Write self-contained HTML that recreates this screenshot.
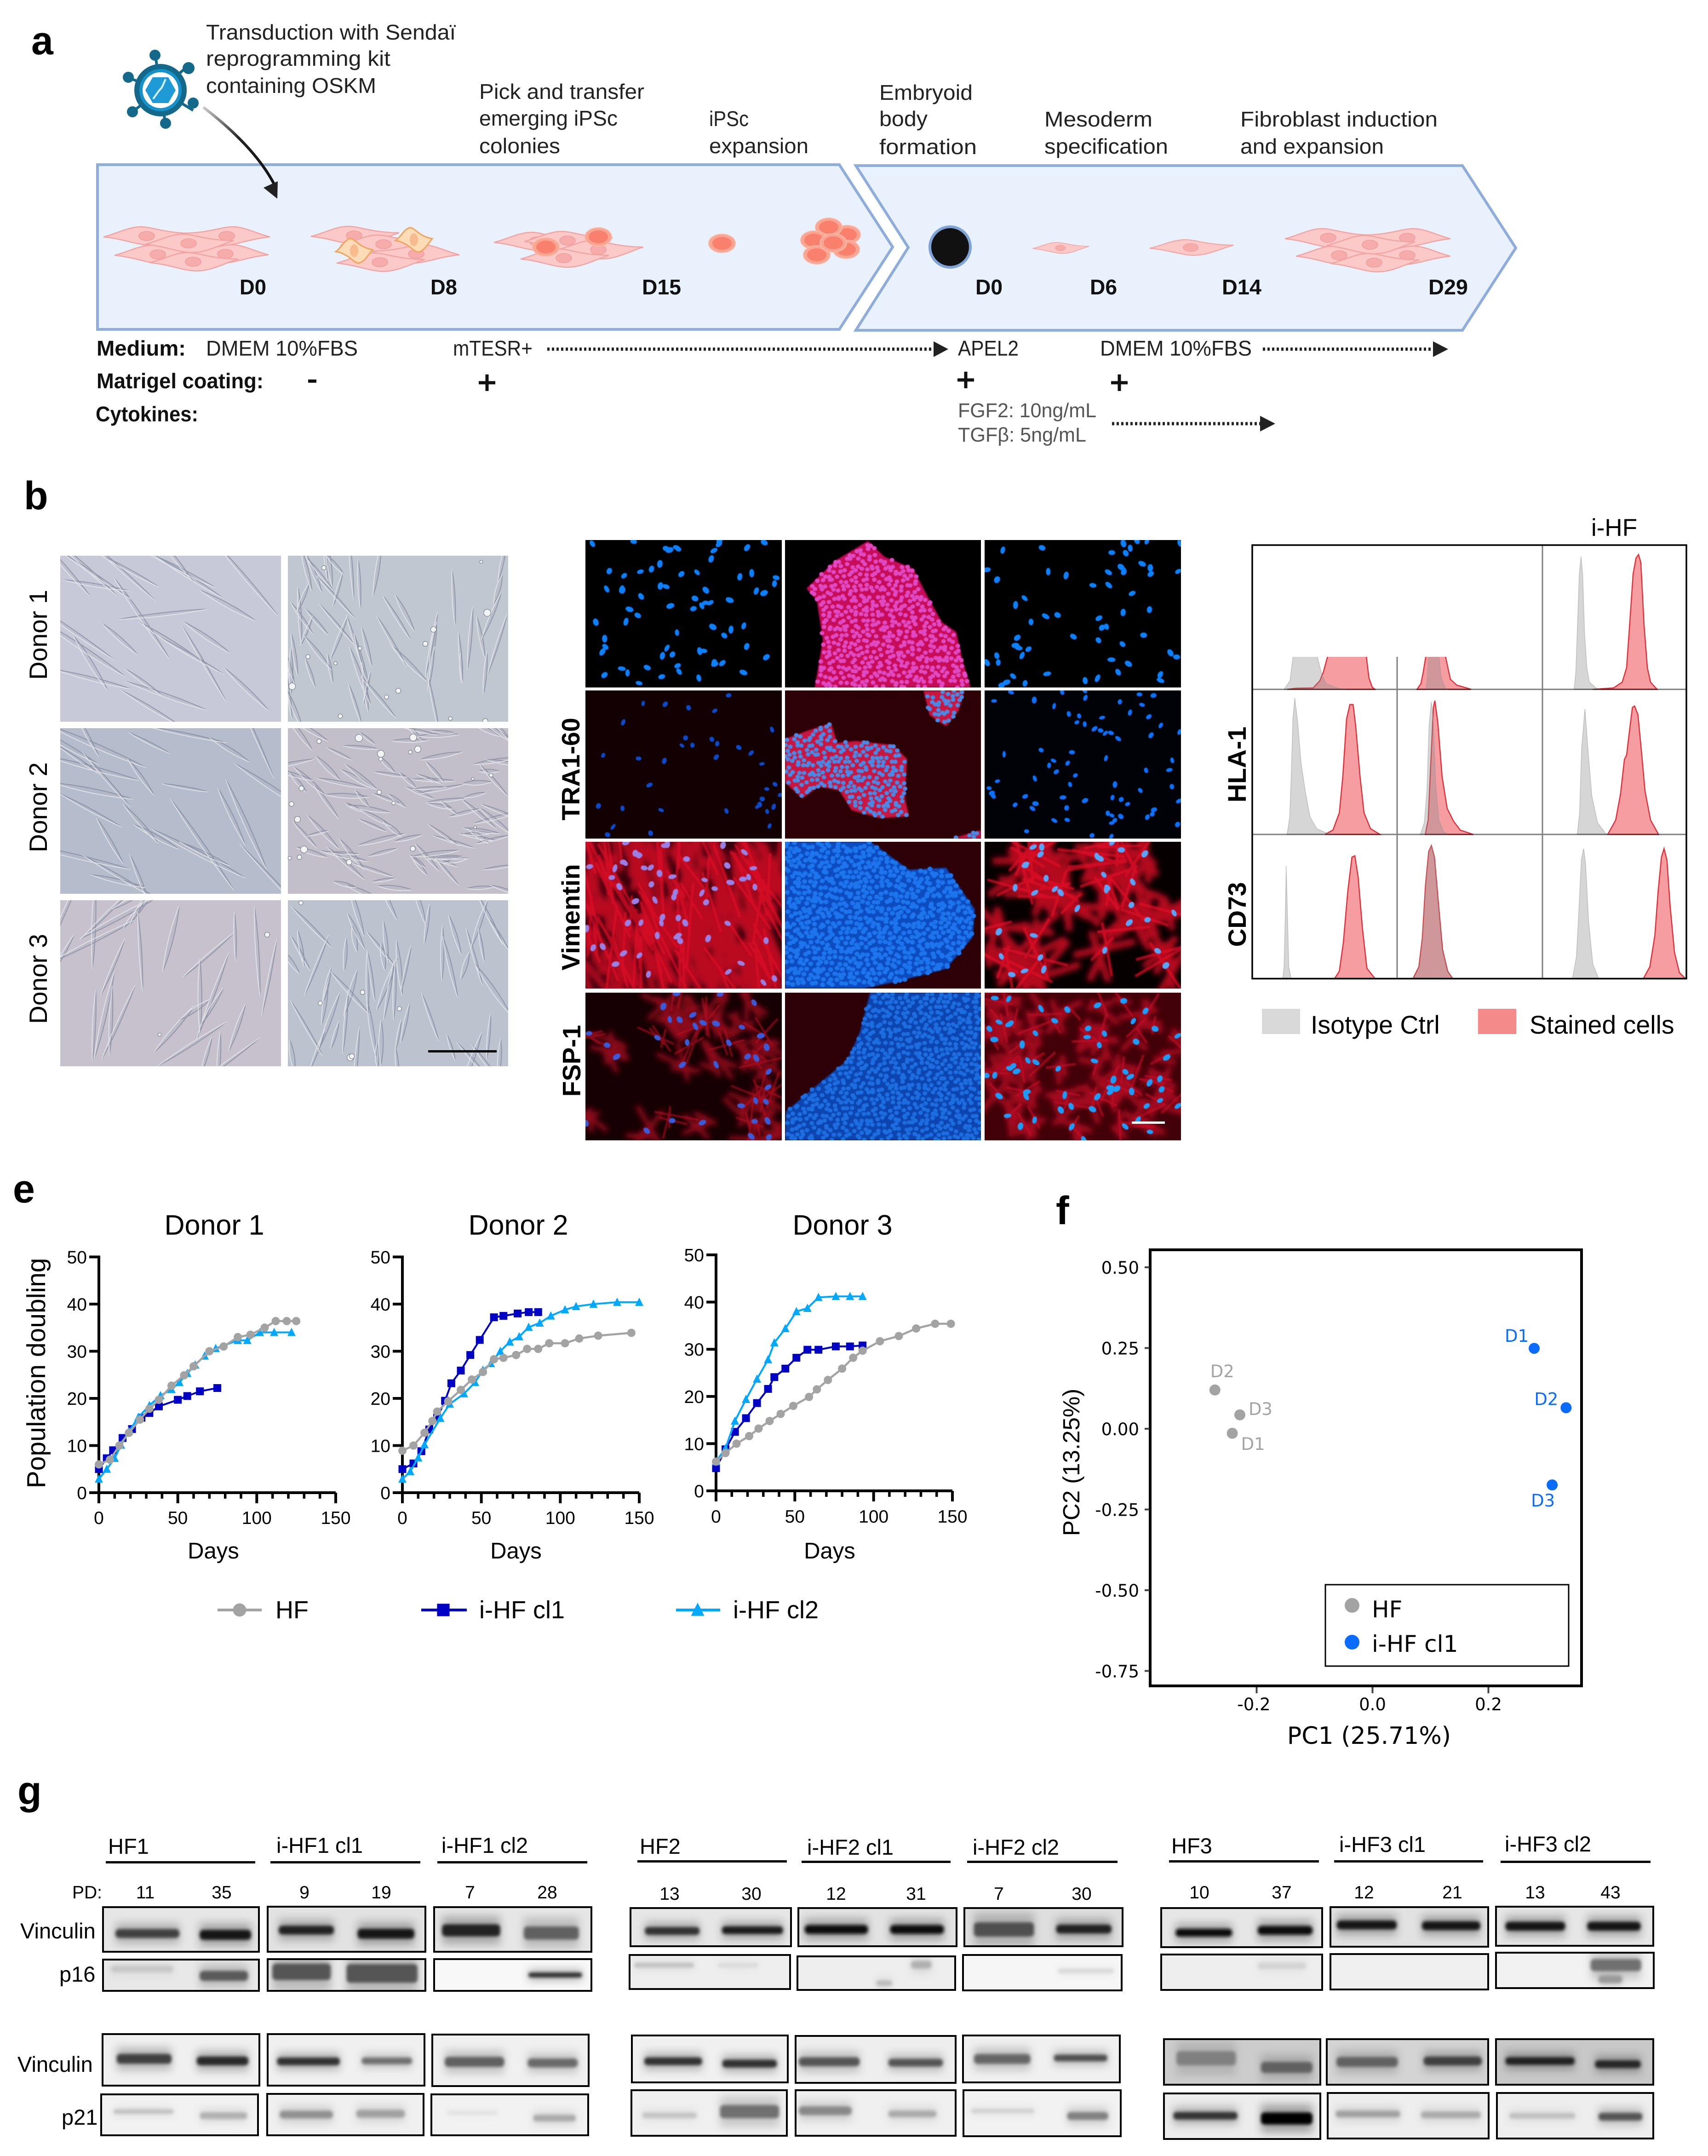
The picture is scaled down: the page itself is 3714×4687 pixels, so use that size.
<!DOCTYPE html>
<html lang="en">
<head>
<meta charset="utf-8">
<title>Fibroblast reprogramming figure</title>
<style>
html,body{margin:0;padding:0;background:#fff;}
svg{display:block;}
text{font-family:"Liberation Sans",sans-serif;fill:#000;}
.a{font-size:46px;fill:#222;}
.ab{font-size:46px;fill:#111;font-weight:bold;}
.ag{font-size:44px;fill:#555;}
.L{font-size:86px;font-weight:bold;}
.side{font-size:55px;}
.bl{font-size:55px;font-weight:bold;}
.gh{font-size:47px;}
.pd{font-size:39px;text-anchor:middle;}
.rl{font-size:47px;}
</style>
</head>
<body>
<svg id="figure" xmlns="http://www.w3.org/2000/svg" width="3714" height="4687" viewBox="0 0 3714 4687">
<defs>
  <g id="cell">
    <path d="M-96,2 C-70,-4 -42,-20 -15,-20 C10,-20 38,-6 96,-6 C64,4 38,20 5,20 C-22,20 -54,6 -96,2Z" fill="#fbc9c7" stroke="#f2a3a2" stroke-width="2.5"/>
    <ellipse cx="-2" cy="0" rx="17" ry="10" fill="#f5acab" stroke="#f29c9c" stroke-width="1.5"/>
  </g>
  <g id="ocell">
    <path d="M-40,2 C-30,-4 -22,-22 -10,-26 C2,-28 8,-8 40,-2 C32,6 24,24 10,27 C0,28 -12,6 -40,2Z" fill="#fbdcb6" stroke="#f2a45e" stroke-width="3"/>
    <ellipse cx="0" cy="0" rx="9" ry="14" fill="#f7bb8e"/>
  </g>
  <g id="rcell">
    <ellipse cx="0" cy="0" rx="29" ry="20" fill="#f9a592" stroke="#fbb9a8" stroke-width="2"/>
    <ellipse cx="0" cy="0" rx="21" ry="14" fill="#f8806c"/>
  </g>
  <linearGradient id="curveGrad" x1="0" y1="0" x2="1" y2="1">
    <stop offset="0" stop-color="#ccc"/><stop offset=".45" stop-color="#222"/><stop offset="1" stop-color="#111"/>
  </linearGradient>
  <filter id="blur4" x="-20%" y="-60%" width="140%" height="220%"><feGaussianBlur stdDeviation="3.5"/></filter>
  <filter id="blur2" x="-5%" y="-5%" width="110%" height="110%"><feGaussianBlur stdDeviation="1.6"/></filter>
  <filter id="blur1" x="-2%" y="-2%" width="104%" height="104%"><feGaussianBlur stdDeviation="0.9"/></filter>
  <filter id="blur6" x="-5%" y="-5%" width="110%" height="110%"><feGaussianBlur stdDeviation="6"/></filter>
  <filter id="blur10" x="-30%" y="-60%" width="160%" height="220%"><feGaussianBlur stdDeviation="9"/></filter>
</defs>

<g id="panel-a">
  <text class="L" x="68" y="118">a</text>
  <polygon points="212,358 1825,358 1941,537 1825,716 212,716" fill="#e9f2fc" stroke="#8eaddb" stroke-width="6"/>
  <polygon points="1861,360 3180,360 3296,539 3180,718 1861,718 1975,538" fill="#e9f2fc" stroke="#8eaddb" stroke-width="6"/>

  <g fill="#14688a" stroke="#14688a">
    <g stroke-width="6">
      <line x1="349" y1="196" x2="337" y2="115"/><line x1="349" y1="196" x2="410" y2="142"/><line x1="349" y1="196" x2="420" y2="240"/>
      <line x1="349" y1="196" x2="360" y2="272"/><line x1="349" y1="196" x2="288" y2="243"/><line x1="349" y1="196" x2="277" y2="168"/>
    </g>
    <g stroke="none">
      <circle cx="337" cy="120" r="12"/><circle cx="410" cy="148" r="13"/><circle cx="420" cy="224" r="12"/>
      <circle cx="360" cy="268" r="12"/><circle cx="288" cy="243" r="12"/><circle cx="279" cy="168" r="12"/>
      <circle cx="349" cy="196" r="57"/>
      <circle cx="349" cy="196" r="46" fill="#1592c9"/>
      <circle cx="349" cy="196" r="39" fill="#fff"/>
      <polygon points="316,196 332,168 366,168 382,196 366,224 332,224" fill="#1e9ad6"/>
    </g>
    <path d="M333,215 L345,198 L352,190 L360,172" fill="none" stroke="#d8f0fa" stroke-width="4"/>
  </g>
  <path d="M442,233 Q555,320 597,402" fill="none" stroke="url(#curveGrad)" stroke-width="6"/>
  <polygon points="603,432 573,408 604,394" fill="#222"/>

  <text class="a" x="448" y="86" textLength="543" lengthAdjust="spacingAndGlyphs">Transduction with Sendaï</text>
  <text class="a" x="448" y="143" textLength="401" lengthAdjust="spacingAndGlyphs">reprogramming kit</text>
  <text class="a" x="448" y="202" textLength="370" lengthAdjust="spacingAndGlyphs">containing OSKM</text>
  <text class="a" x="1042" y="215" textLength="359" lengthAdjust="spacingAndGlyphs">Pick and transfer</text>
  <text class="a" x="1042" y="273" textLength="301" lengthAdjust="spacingAndGlyphs">emerging iPSc</text>
  <text class="a" x="1042" y="333" textLength="176" lengthAdjust="spacingAndGlyphs">colonies</text>
  <text class="a" x="1542" y="274" textLength="86" lengthAdjust="spacingAndGlyphs">iPSc</text>
  <text class="a" x="1542" y="333" textLength="216" lengthAdjust="spacingAndGlyphs">expansion</text>
  <text class="a" x="1912" y="217" textLength="203" lengthAdjust="spacingAndGlyphs">Embryoid</text>
  <text class="a" x="1912" y="274" textLength="105" lengthAdjust="spacingAndGlyphs">body</text>
  <text class="a" x="1912" y="335" textLength="212" lengthAdjust="spacingAndGlyphs">formation</text>
  <text class="a" x="2271" y="275" textLength="235" lengthAdjust="spacingAndGlyphs">Mesoderm</text>
  <text class="a" x="2271" y="334" textLength="269" lengthAdjust="spacingAndGlyphs">specification</text>
  <text class="a" x="2697" y="275" textLength="429" lengthAdjust="spacingAndGlyphs">Fibroblast induction</text>
  <text class="a" x="2697" y="334" textLength="312" lengthAdjust="spacingAndGlyphs">and expansion</text>

  <g>
    <use href="#cell" transform="translate(321,513)"/><use href="#cell" transform="translate(491,513) scale(-1,1)"/><use href="#cell" transform="translate(345,553)"/><use href="#cell" transform="translate(488,552) scale(-1,1)"/><use href="#cell" transform="translate(412,529)"/><use href="#cell" transform="translate(422,569)"/>
  </g>
  <g>
    <use href="#cell" transform="translate(772,512)"/><use href="#cell" transform="translate(836,531)"/><use href="#cell" transform="translate(903,552) scale(-1,1)"/><use href="#cell" transform="translate(828,570)"/>
    <use href="#ocell" transform="translate(770,545)"/><use href="#ocell" transform="translate(900,521)"/>
  </g>
  <g>
    <use href="#cell" transform="translate(1170,525)"/><use href="#cell" transform="translate(1236,523)"/><use href="#cell" transform="translate(1303,543)"/><use href="#cell" transform="translate(1228,561)"/>
    <use href="#rcell" transform="translate(1187,537)"/><use href="#rcell" transform="translate(1301,515)"/>
  </g>
  <use href="#rcell" transform="translate(1570,529)"/>
  <g>
    <use href="#rcell" transform="translate(1842,510)"/><use href="#rcell" transform="translate(1840,542)"/><use href="#rcell" transform="translate(1802,494)"/><use href="#rcell" transform="translate(1770,522)"/><use href="#rcell" transform="translate(1776,554)"/><use href="#rcell" transform="translate(1812,528)"/>
  </g>
  <circle cx="2066" cy="537" r="44" fill="#111" stroke="#7ea3d6" stroke-width="6"/>
  <use href="#cell" transform="translate(2307,539) scale(.64,.6)"/>
  <use href="#cell" transform="translate(2591,538) scale(.95,.85)"/>
  <g>
    <use href="#cell" transform="translate(2890,517)"/><use href="#cell" transform="translate(3058,517) scale(-1,1)"/><use href="#cell" transform="translate(2914,555)"/><use href="#cell" transform="translate(3058,555) scale(-1,1)"/><use href="#cell" transform="translate(2981,532)"/><use href="#cell" transform="translate(2990,571)"/>
  </g>

  <text class="ab" x="521" y="640" textLength="58" lengthAdjust="spacingAndGlyphs">D0</text>
  <text class="ab" x="936" y="640" textLength="58" lengthAdjust="spacingAndGlyphs">D8</text>
  <text class="ab" x="1396" y="640" textLength="85" lengthAdjust="spacingAndGlyphs">D15</text>
  <text class="ab" x="2121" y="640" textLength="59" lengthAdjust="spacingAndGlyphs">D0</text>
  <text class="ab" x="2370" y="640" textLength="59" lengthAdjust="spacingAndGlyphs">D6</text>
  <text class="ab" x="2657" y="640" textLength="86" lengthAdjust="spacingAndGlyphs">D14</text>
  <text class="ab" x="3106" y="640" textLength="86" lengthAdjust="spacingAndGlyphs">D29</text>

  <text class="ab" x="210" y="773" textLength="194" lengthAdjust="spacingAndGlyphs">Medium:</text>
  <text class="a" x="448" y="773" textLength="330" lengthAdjust="spacingAndGlyphs">DMEM 10%FBS</text>
  <text class="a" x="985" y="773" textLength="173" lengthAdjust="spacingAndGlyphs">mTESR+</text>
  <text class="a" x="2083" y="773" textLength="132" lengthAdjust="spacingAndGlyphs">APEL2</text>
  <text class="a" x="2392" y="773" textLength="330" lengthAdjust="spacingAndGlyphs">DMEM 10%FBS</text>
  <text class="ab" x="210" y="844" textLength="363" lengthAdjust="spacingAndGlyphs">Matrigel coating:</text>
  <text class="ab" x="208" y="916" textLength="223" lengthAdjust="spacingAndGlyphs">Cytokines:</text>
  <text class="ag" x="2083" y="907" textLength="301" lengthAdjust="spacingAndGlyphs">FGF2: 10ng/mL</text>
  <text class="ag" x="2083" y="960" textLength="279" lengthAdjust="spacingAndGlyphs">TGFβ: 5ng/mL</text>
  <rect x="670" y="825" width="18" height="7" fill="#111"/>
  <path d="M1041,832h36M1059,814v36" stroke="#111" stroke-width="7"/>
  <path d="M2082,826h36M2100,808v36" stroke="#111" stroke-width="7"/>
  <path d="M2416,832h36M2434,814v36" stroke="#111" stroke-width="7"/>
  <line x1="1190" y1="759" x2="2032" y2="759" stroke="#222" stroke-width="7" stroke-dasharray="5 5"/>
  <polygon points="2030,742 2062,759 2030,776" fill="#222"/>
  <line x1="2746" y1="759" x2="3118" y2="759" stroke="#222" stroke-width="7" stroke-dasharray="5 5"/>
  <polygon points="3116,742 3149,759 3116,776" fill="#222"/>
  <line x1="2418" y1="921" x2="2742" y2="921" stroke="#222" stroke-width="7" stroke-dasharray="5 5"/>
  <polygon points="2740,904 2773,921 2740,938" fill="#222"/>
</g>

<g id="panel-b">
  <text class="L" x="52" y="1107">b</text>
  <text class="side" transform="translate(102,1380) rotate(-90)" text-anchor="middle">Donor 1</text>
  <text class="side" transform="translate(102,1755) rotate(-90)" text-anchor="middle">Donor 2</text>
  <text class="side" transform="translate(102,2128) rotate(-90)" text-anchor="middle">Donor 3</text>
  <text class="bl" transform="translate(1260,1672) rotate(-90)" text-anchor="middle">TRA1-60</text>
  <text class="bl" transform="translate(1260,1994) rotate(-90)" text-anchor="middle">Vimentin</text>
  <text class="bl" transform="translate(1262,2306) rotate(-90)" text-anchor="middle">FSP-1</text>
  <g id="photos"></g>
  <g id="fluor"></g>
  <rect x="931" y="2283" width="149" height="5" fill="#000"/>
  <rect x="2461" y="2438" width="72" height="5" fill="#fff"/>
</g>

<g id="flow">
  <text x="3460" y="1165" font-size="53">i-HF</text>
  <text class="bl" transform="translate(2709,1662) rotate(-90)" text-anchor="middle" style="font-size:56px">HLA-1</text>
  <text class="bl" transform="translate(2709,1988) rotate(-90)" text-anchor="middle" style="font-size:55px">CD73</text>
  <g id="flowMarks"></g>
  <rect x="2744" y="2193" width="83" height="55" fill="#d9d9d9"/>
  <text x="2850" y="2247" font-size="55.5">Isotype Ctrl</text>
  <rect x="3214" y="2193" width="83" height="55" fill="#f58a8a"/>
  <text x="3326" y="2247" font-size="55.5">Stained cells</text>
</g>

<g id="growth">
  <text class="L" x="28" y="2614">e</text>
  <text transform="translate(98,2985) rotate(-90)" text-anchor="middle" font-size="57">Population doubling</text>
  <g id="growthMarks"></g>
  <g id="growthLegend"></g>
</g>

<g id="pca">
  <text class="L" x="2296" y="2661">f</text>
  <g id="pcaMarks"></g>
</g>

<g id="western">
  <text class="L" x="38" y="3922">g</text>
  <g id="blotMarks"></g>
  <g>
    <text class="gh" x="235" y="4030">HF1</text>
    <text class="gh" x="601" y="4028">i-HF1 cl1</text>
    <text class="gh" x="960" y="4028">i-HF1 cl2</text>
    <text class="gh" x="1391" y="4030">HF2</text>
    <text class="gh" x="1755" y="4032">i-HF2 cl1</text>
    <text class="gh" x="2115" y="4032">i-HF2 cl2</text>
    <text class="gh" x="2547" y="4029">HF3</text>
    <text class="gh" x="2912" y="4026">i-HF3 cl1</text>
    <text class="gh" x="3272" y="4025">i-HF3 cl2</text>
  </g>
  <g fill="#000">
    <rect x="230" y="4046" width="325" height="5"/><rect x="588" y="4046" width="326" height="5"/><rect x="951" y="4046" width="326" height="5"/>
    <rect x="1386" y="4044" width="325" height="5"/><rect x="1743" y="4045" width="324" height="5"/><rect x="2103" y="4045" width="327" height="5"/>
    <rect x="2542" y="4044" width="326" height="5"/><rect x="2901" y="4044" width="324" height="5"/><rect x="3263" y="4045" width="326" height="5"/>
  </g>
  <g>
    <text x="157" y="4127" font-size="39">PD:</text>
    <text class="pd" x="316" y="4127">11</text>
    <text class="pd" x="482" y="4127">35</text>
    <text class="pd" x="662" y="4127">9</text>
    <text class="pd" x="829" y="4127">19</text>
    <text class="pd" x="1022" y="4127">7</text>
    <text class="pd" x="1190" y="4127">28</text>
    <text class="pd" x="1456" y="4130">13</text>
    <text class="pd" x="1634" y="4130">30</text>
    <text class="pd" x="1818" y="4130">12</text>
    <text class="pd" x="1992" y="4130">31</text>
    <text class="pd" x="2172" y="4130">7</text>
    <text class="pd" x="2352" y="4130">30</text>
    <text class="pd" x="2608" y="4127">10</text>
    <text class="pd" x="2787" y="4127">37</text>
    <text class="pd" x="2966" y="4127">12</text>
    <text class="pd" x="3158" y="4127">21</text>
    <text class="pd" x="3338" y="4127">13</text>
    <text class="pd" x="3502" y="4127">43</text>
  </g>
  <text class="rl" x="44" y="4214">Vinculin</text>
  <text class="rl" x="129" y="4308">p16</text>
  <text class="rl" x="38" y="4504">Vinculin</text>
  <text class="rl" x="134" y="4619">p21</text>
</g>
</svg>

<script>
/* ---------- growth curve data (panel e) ---------- */
const growthXTicks = [0, 50, 100, 150];
const growthYTicks = [0, 10, 20, 30, 40, 50];
const growthMinorTicks = [10, 20, 30, 40, 60, 70, 80, 90, 110, 120, 130, 140];
const donorTitles = ['Donor 1', 'Donor 2', 'Donor 3'];
const seriesNames = ['HF', 'i-HF cl1', 'i-HF cl2'];

const d1HfDays = [0,7,13,19,26,32,38,46,54,60,70,79,88,96,105,112,119,125];
const d1HfPd = [6,7,10,12.7,15.5,17.8,19.7,22.7,24.9,26.8,30,31,33,33.5,35,36.4,36.4,36.4];
const d1Cl1Days = [0,5,9,15,21,27,32,38,50,56,64,75];
const d1Cl1Pd = [5,7.3,9,11.6,13.5,15.9,16.9,18.3,19.7,20.5,21.5,22.2];
const d1Cl2Days = [0,5,10,14,19,25,32,39,46,51,56,61,67,74,88,94,102,111,122];
const d1Cl2Pd = [2.9,5,7.3,10.1,13,16,18.5,20.6,21.9,23.4,25.3,27.1,29,30.6,32.3,32.3,34,34,34];

const d2HfDays = [0,7,14,19,22,29,37,44,51,58,64,72,79,86,93,103,112,124,145];
const d2HfPd = [8.9,10,12.7,15.2,17.2,19.4,21.8,24,25.6,28.3,28.6,29.2,30.5,30.5,31.7,31.7,32.7,33.3,33.9];
const d2Cl1Days = [0,7,12,17,22,27,31,37,43,49,58,64,73,80,86];
const d2Cl1Pd = [5,6.2,8.8,13.4,15.9,19.5,23.2,25.9,29.2,32.4,37.2,37.5,38,38.3,38.3];
const d2Cl2Days = [0,5,10,14,24,30,39,46,51,56,62,68,74,80,87,94,103,110,121,136,150];
const d2Cl2Pd = [2.9,4.5,7.4,10.2,15.8,18.8,21,23.4,26,27.4,30,32,33.1,35.1,36,37.5,38.8,39.5,40,40.4,40.4];

const d3HfDays = [0,6,13,21,27,34,41,49,59,64,71,80,87,93,104,116,127,139,149];
const d3HfPd = [6.2,8,10,11.6,13.2,14.8,16.3,18,19.9,21.5,23.5,25.9,28.2,29.7,31.7,32.8,34.4,35.4,35.4];
const d3Cl1Days = [0,6,12,19,26,33,37,44,51,58,65,76,85,93];
const d3Cl1Pd = [4.8,8.8,12.5,15.4,18.6,21.6,24.1,25.9,28.2,29.9,29.9,30.6,30.6,30.8];
const d3Cl2Days = [0,6,12,19,26,33,37,44,51,58,65,76,85,93];
const d3Cl2Pd = [6.2,9,14.8,19.4,23.7,27.8,31.4,34.4,38,38.7,41,41.2,41.2,41.2];

/* ---------- PCA data (panel f) ---------- */
const pcaXTicks = [-0.2, 0.0, 0.2];
const pcaYTicks = [0.50, 0.25, 0.00, -0.25, -0.50, -0.75];
const pcaHfPc1 = [-0.242, -0.272, -0.229];
const pcaHfPc2 = [-0.014, 0.12, 0.043];
const pcaIhfPc1 = [0.279, 0.334, 0.31];
const pcaIhfPc2 = [0.249, 0.065, -0.174];
const pcaDonorLabels = ['D1', 'D2', 'D3'];

/* ---------- flow histograms (panel b right): [fluorescence %, count %] ---------- */
const flowHla0Iso = [[22,0],[26,6],[28,22],[31,40],[37,50],[42,40],[45,22],[48,10],[51,4],[60,0.5],[65,0]];
const flowHla0Stain = [[24,0],[30,0.8],[42,1],[46.6,6],[49,12],[52,23],[55.6,35],[64.6,45],[76,35],[78.6,23],[80.4,8],[82.7,1.5],[84.5,0]];
const flowHla1Iso = [[19.8,0],[20.7,6],[21.6,23],[24,50],[28.8,23],[30.4,8],[33.3,1],[35,0]];
const flowHla1Stain = [[13.7,0],[16.4,4],[18,12],[19.8,23],[23,45],[26,50],[30,45],[33.3,23],[36.7,7],[41,3],[51,0]];
const flowHla2Iso = [[21.8,0],[23,12],[24,40],[25.4,80],[26.6,92],[27.7,80],[29,40],[30.6,15],[32.4,5],[36.9,1],[40,0]];
const flowHla2Stain = [[34.7,0],[49,1],[55,5],[58,15],[60.1,45],[62.5,80],[64.5,91],[66.2,93.4],[67.8,88],[70,45],[72.3,15],[74.5,5],[79,0]];
const flowB0Iso = [[24,0],[25.8,12],[27,45],[28,80],[29.3,94.6],[31.3,78],[33.6,50],[36.5,30],[39.9,12],[44.4,4],[50,1.5],[56,0]];
const flowB0Stain = [[50,0],[55.6,3],[60,15],[62.4,40],[65,80],[67.3,90],[69.5,90],[71.3,75],[74.3,40],[77,15],[81.5,4],[88,0]];
const flowB1Iso = [[16,0],[18.7,8],[20.5,30],[22,75],[23.6,92],[24.8,80],[26.6,35],[28.8,10],[32,2],[35.6,0]];
const flowB1Stain = [[19.4,0],[21.4,10],[23,45],[25,88],[26,92.7],[28,78],[31,40],[34.5,18],[39,9],[43.5,3],[52.5,0]];
const flowB2Iso = [[24,0],[25.6,15],[27,60],[29.3,87],[31.3,60],[34,27],[38,8],[43.7,0.5],[47,0]];
const flowB2Stain = [[45,0],[50.5,10],[53.8,28],[56.5,52],[58,55],[60,72],[62,88],[63.5,89],[65.8,83],[68,60],[70.7,30],[74.5,10],[80,0]];
const flowC0Iso = [[21,0],[21.9,8],[22.9,50],[23.4,78],[24.1,50],[25.2,8],[26.8,0]];
const flowC0Stain = [[56.8,0],[60,5],[62.8,25],[65.8,60],[68.7,84],[70.7,85],[73,70],[75.9,35],[79,7],[84.5,0]];
const flowC1Iso = [[11.5,0],[15.3,8],[17.6,28],[19.8,65],[22,88],[23.6,92],[25.5,84],[28,55],[31,20],[34.5,5],[37.8,0]];
const flowC1Stain = [[11,0],[15,8],[17.4,28],[19.6,65],[21.8,88],[23.6,92],[25.7,84],[28.2,55],[31.3,20],[34.8,5],[38.2,0]];
const flowC2Iso = [[20.7,0],[23.4,15],[25,45],[26.8,82],[28.4,90],[29.7,80],[31.8,40],[34.7,10],[38.7,0]];
const flowC2Stain = [[69.6,0],[74,8],[77.5,30],[79.7,60],[82,84],[83.8,90],[85.8,82],[88,50],[91,18],[94.4,4],[98.5,0]];

/* ---------- helpers ---------- */
const SVGNS = 'http://www.w3.org/2000/svg';
function mk(tag, parent, attrs) {
  const e = document.createElementNS(SVGNS, tag);
  for (const k in attrs) e.setAttribute(k, attrs[k]);
  parent.appendChild(e);
  return e;
}
function prng(seed) {
  let s = seed >>> 0;
  return function () {
    s = (s + 0x6D2B79F5) >>> 0;
    let t = Math.imul(s ^ (s >>> 15), 1 | s);
    t = (t + Math.imul(t ^ (t >>> 7), 61 | t)) ^ t;
    return ((t ^ (t >>> 14)) >>> 0) / 4294967296;
  };
}
const defs = document.querySelector('defs');
let clipN = 0;
function clipRect(x, y, w, h) {
  const c = mk('clipPath', defs, { id: 'c' + (++clipN) });
  mk('rect', c, { x: x, y: y, width: w, height: h });
  return 'url(#c' + clipN + ')';
}

/* ---------- panel e ---------- */
const growthLayout = [
  { x0: 215, x150: 730, y0: 3245, y50: 2732.5, titleX: 466, daysX: 464, tickY: 3313 },
  { x0: 875, x150: 1390, y0: 3245, y50: 2732.5, titleX: 1127, daysX: 1122, tickY: 3313 },
  { x0: 1557, x150: 2071, y0: 3241, y50: 2728, titleX: 1832, daysX: 1804, tickY: 3310 }
];
const growthSeries = [
  [[d1Cl1Days, d1Cl1Pd], [d1Cl2Days, d1Cl2Pd], [d1HfDays, d1HfPd]],
  [[d2Cl1Days, d2Cl1Pd], [d2Cl2Days, d2Cl2Pd], [d2HfDays, d2HfPd]],
  [[d3Cl1Days, d3Cl1Pd], [d3Cl2Days, d3Cl2Pd], [d3HfDays, d3HfPd]]
];
const growthStyles = [
  { color: '#0000c4', width: 4, shape: 'square', key: 'ihf-cl1' },
  { color: '#00a8ff', width: 4, shape: 'triangle', key: 'ihf-cl2' },
  { color: '#a3a3a3', width: 4.5, shape: 'circle', key: 'hf' }
];
function drawMarker(parent, shape, color, x, y, s) {
  if (shape === 'circle') return mk('circle', parent, { cx: x, cy: y, r: 9 * s, fill: color });
  if (shape === 'square') return mk('rect', parent, { x: x - 8.5 * s, y: y - 8.5 * s, width: 17 * s, height: 17 * s, fill: color });
  return mk('polygon', parent, {
    points: x + ',' + (y - 10 * s) + ' ' + (x - 9 * s) + ',' + (y + 8 * s) + ' ' + (x + 9 * s) + ',' + (y + 8 * s),
    fill: color
  });
}
const growthRoot = document.getElementById('growthMarks');
growthLayout.forEach(function (L, i) {
  const xs = function (v) { return L.x0 + (L.x150 - L.x0) * v / 150; };
  const ys = function (v) { return L.y0 + (L.y50 - L.y0) * v / 50; };
  const g = mk('g', growthRoot, {});
  
  

  const title = mk('text', g, { x: L.titleX, y: 2684, 'text-anchor': 'middle', 'font-size': 61 });
  title.textContent = donorTitles[i];
  
  

  const days = mk('text', g, { x: L.daysX, y: 3388, 'text-anchor': 'middle', 'font-size': 49 });
  days.textContent = 'Days';
  
  

  const axis = mk('path', g, {
    d: 'M' + xs(0) + ',' + (ys(50) - 3) + 'V' + ys(0) + 'H' + xs(150),
    fill: 'none', stroke: '#000', 'stroke-width': 6
  });
  
  

  growthMinorTicks.forEach(function (t) {
    const tick = mk('line', g, { x1: xs(t), x2: xs(t), y1: ys(0), y2: ys(0) + 13, stroke: '#000', 'stroke-width': 5.5 });
    
    
  });
  growthXTicks.forEach(function (t) {
    const tick = mk('line', g, { x1: xs(t), x2: xs(t), y1: ys(0), y2: ys(0) + 23, stroke: '#000', 'stroke-width': 6 });
    
    
    const lab = mk('text', g, { x: xs(t), y: L.tickY, 'text-anchor': 'middle', 'font-size': 39 });
    lab.textContent = t;
    
    
  });
  growthYTicks.forEach(function (t) {
    const tick = mk('line', g, { x1: xs(0) - 21, x2: xs(0), y1: ys(t), y2: ys(t), stroke: '#000', 'stroke-width': 6 });
    
    
    const lab = mk('text', g, { x: xs(0) - 26, y: ys(t) + 14, 'text-anchor': 'end', 'font-size': 39 });
    lab.textContent = t;
    
    
  });
  growthSeries[i].forEach(function (s, k) {
    const st = growthStyles[k];
    const sg = mk('g', g, {});
    
    
    const pts = s[0].map(function (d, j) { return xs(d) + ',' + ys(s[1][j]); }).join(' ');
    const line = mk('polyline', sg, { points: pts, fill: 'none', stroke: st.color, 'stroke-width': st.width });
    
    
    s[0].forEach(function (d, j) {
      const m = drawMarker(sg, st.shape, st.color, xs(d), ys(s[1][j]), 1);
      
      
    });
  });
});
const legendRoot = document.getElementById('growthLegend');
const legendLayout = [
  { x1: 473, x2: 569, mx: 521, tx: 599, style: 2 },
  { x1: 916, x2: 1015, mx: 964, tx: 1042, style: 0 },
  { x1: 1470, x2: 1566, mx: 1517, tx: 1594, style: 1 }
];
legendLayout.forEach(function (L, i) {
  const st = growthStyles[L.style];
  const g = mk('g', legendRoot, {});
  
  
  mk('line', g, { x1: L.x1, x2: L.x2, y1: 3500, y2: 3500, stroke: st.color, 'stroke-width': 6 });
  drawMarker(g, st.shape, st.color, L.mx, 3500, 1.6);
  const t = mk('text', g, { x: L.tx, y: 3518, 'font-size': 54 });
  t.textContent = seriesNames[i];
});

/* ---------- panel f ---------- */
const pcaRoot = document.getElementById('pcaMarks');
const pcaX = function (v) { return 2984.5 + v * 1260; };
const pcaY = function (v) { return 3106 - v * 702; };
const dejavu = '"DejaVu Sans",sans-serif';
(function () {
  const frame = mk('rect', pcaRoot, { x: 2501, y: 2717, width: 938, height: 948, fill: '#fff', stroke: '#000', 'stroke-width': 6 });
  
  
  pcaXTicks.forEach(function (t) {
    const tk = mk('line', pcaRoot, { x1: pcaX(t), x2: pcaX(t), y1: 3668, y2: 3681, stroke: '#444', 'stroke-width': 4 });
    
    
    const lb = mk('text', pcaRoot, { x: pcaX(t) + (t < 0 ? -6 : 0), y: 3718, 'text-anchor': 'middle', 'font-size': 37, style: 'font-family:' + dejavu });
    lb.textContent = t.toFixed(1);
    
    
  });
  pcaYTicks.forEach(function (t) {
    const tk = mk('line', pcaRoot, { x1: 2489, x2: 2499, y1: pcaY(t), y2: pcaY(t), stroke: '#444', 'stroke-width': 4 });
    
    
    const lb = mk('text', pcaRoot, { x: 2477, y: pcaY(t) + 14, 'text-anchor': 'end', 'font-size': 37, style: 'font-family:' + dejavu });
    lb.textContent = t.toFixed(2);
    
    
  });
  const xt = mk('text', pcaRoot, { x: 2977, y: 3791, 'text-anchor': 'middle', 'font-size': 52, style: 'font-family:' + dejavu });
  xt.textContent = 'PC1 (25.71%)';
  
  
  const yt = mk('text', pcaRoot, { transform: 'translate(2347,3179) rotate(-90)', 'text-anchor': 'middle', 'font-size': 51 });
  yt.textContent = 'PC2 (13.25%)';
  
  

  const hfOffsets = [[45, 24], [16, -40], [45, -12]];
  const ihfOffsets = [[-38, -26], [-43, -18], [-20, 35]];
  const drawGroup = function (xsv, ysv, color, key, offs) {
    xsv.forEach(function (v, i) {
      const p = mk('circle', pcaRoot, { cx: pcaX(v), cy: pcaY(ysv[i]), r: 12, fill: color });
      
      
      const t = mk('text', pcaRoot, {
        x: pcaX(v) + offs[i][0], y: pcaY(ysv[i]) + offs[i][1] + 12, 'text-anchor': 'middle',
        'font-size': 37, style: 'font-family:' + dejavu + ';fill:' + color
      });
      t.textContent = pcaDonorLabels[i];
      
      
    });
  };
  drawGroup(pcaHfPc1, pcaHfPc2, '#a3a3a3', 'hf', hfOffsets);
  drawGroup(pcaIhfPc1, pcaIhfPc2, '#0a6cff', 'ihf', ihfOffsets);

  const lg = mk('g', pcaRoot, {});
  
  
  mk('rect', lg, { x: 2882, y: 3445, width: 529, height: 177, fill: '#fff', stroke: '#000', 'stroke-width': 3 });
  mk('circle', lg, { cx: 2940, cy: 3490, r: 16, fill: '#a3a3a3' });
  mk('circle', lg, { cx: 2940, cy: 3570, r: 16, fill: '#0a6cff' });
  const a = mk('text', lg, { x: 2983, y: 3516, 'font-size': 50, style: 'font-family:' + dejavu });
  a.textContent = 'HF';
  const b = mk('text', lg, { x: 2983, y: 3591, 'font-size': 50, style: 'font-family:' + dejavu });
  b.textContent = 'i-HF cl1';
})();

/* ---------- flow histograms ---------- */
const flowRoot = document.getElementById('flowMarks');
const flowColLeft = [2723, 3038, 3354];
const flowRowBase = [1498.6, 1814, 2127];
const flowX = function (col, v) { return flowColLeft[col] + v * 3.155; };
const flowY = function (row, v) { return flowRowBase[row] - v * 3.137; };
const flowGrid = [
  [[flowHla0Iso, flowHla0Stain], [flowHla1Iso, flowHla1Stain], [flowHla2Iso, flowHla2Stain]],
  [[flowB0Iso, flowB0Stain], [flowB1Iso, flowB1Stain], [flowB2Iso, flowB2Stain]],
  [[flowC0Iso, flowC0Stain], [flowC1Iso, flowC1Stain], [flowC2Iso, flowC2Stain]]
];
function flowPath(row, col, curve) {
  let d = 'M' + flowX(col, curve[0][0]) + ',' + flowY(row, 0);
  curve.forEach(function (p) { d += 'L' + flowX(col, p[0]) + ',' + flowY(row, p[1]); });
  return d + 'L' + flowX(col, curve[curve.length - 1][0]) + ',' + flowY(row, 0) + 'Z';
}
flowGrid.forEach(function (rowCurves, r) {
  rowCurves.forEach(function (pair, c) {
    const stain = mk('path', flowRoot, { d: flowPath(r, c, pair[1]), fill: 'rgba(235,60,66,.5)', stroke: '#e0303a', 'stroke-width': 2.5 });
    
    
    const iso = mk('path', flowRoot, { d: flowPath(r, c, pair[0]), fill: 'rgba(140,140,140,.36)', stroke: 'rgba(150,150,150,.5)', 'stroke-width': 1.5 });
    
    
  });
});
(function () {
  const mask = mk('rect', flowRoot, { x: 2726, y: 1186, width: 626, height: 242, fill: '#fff' });
  
  
  const grid = mk('path', flowRoot, {
    d: 'M2723,1498.6H3667M2723,1814H3667M3038,1428V2127M3354,1185V2127',
    stroke: 'rgba(0,0,0,.5)', 'stroke-width': 3, fill: 'none'
  });
  
  
  const frame = mk('rect', flowRoot, { x: 2723, y: 1185, width: 944, height: 942.5, fill: 'none', stroke: '#000', 'stroke-width': 3.5 });
  
  
})();

/* ---------- phase contrast textures ---------- */
const photoDefs = [
  { n: 'donor-1-hf', x: 131, y: 1208, w: 480, h: 361, bg: '#c7c8d8', lines: 26, blobs: 0, seed: 11, ang: 25, len: 75 },
  { n: 'donor-1-ihf', x: 626, y: 1208, w: 479, h: 361, bg: '#c0c7d0', lines: 52, blobs: 14, seed: 12, ang: 80, len: 45 },
  { n: 'donor-2-hf', x: 131, y: 1583, w: 480, h: 360, bg: '#b5bccb', lines: 28, blobs: 0, seed: 13, ang: 40, len: 80 },
  { n: 'donor-2-ihf', x: 626, y: 1583, w: 479, h: 360, bg: '#c3bfca', lines: 90, blobs: 20, seed: 14, ang: 20, len: 35 },
  { n: 'donor-3-hf', x: 131, y: 1957, w: 480, h: 361, bg: '#c6c1cc', lines: 30, blobs: 2, seed: 15, ang: 120, len: 65 },
  { n: 'donor-3-ihf', x: 626, y: 1957, w: 479, h: 361, bg: '#bcc3cf', lines: 56, blobs: 6, seed: 16, ang: 80, len: 45 }
];
const photoRoot = document.getElementById('photos');
photoDefs.forEach(function (P) {
  const R = prng(P.seed);
  const g = mk('g', photoRoot, { 'clip-path': clipRect(P.x, P.y, P.w, P.h) });
  
  
  mk('rect', g, { x: P.x, y: P.y, width: P.w, height: P.h, fill: P.bg });
  let dw = '', dk = '', df = '';
  for (let i = 0; i < P.lines; i++) {
    const cx = P.x + R() * P.w, cy = P.y + R() * P.h;
    const a = (P.ang + (R() - .5) * 70) * Math.PI / 180, len = P.len * (.6 + R());
    const dx = Math.cos(a) * len, dy = Math.sin(a) * len;
    const nx = -Math.sin(a), ny = Math.cos(a), wd = 5 + R() * 5;
    const sx = (cx - dx).toFixed(1), sy = (cy - dy).toFixed(1), ex = (cx + dx).toFixed(1), ey = (cy + dy).toFixed(1);
    dw += 'M' + sx + ',' + sy + 'Q' + (cx + nx * wd).toFixed(1) + ',' + (cy + ny * wd).toFixed(1) + ' ' + ex + ',' + ey;
    dk += 'M' + sx + ',' + sy + 'Q' + (cx - nx * wd).toFixed(1) + ',' + (cy - ny * wd).toFixed(1) + ' ' + ex + ',' + ey;
    df += 'M' + sx + ',' + sy + 'Q' + (cx + nx * wd).toFixed(1) + ',' + (cy + ny * wd).toFixed(1) + ' ' + ex + ',' + ey + 'Q' + (cx - nx * wd).toFixed(1) + ',' + (cy - ny * wd).toFixed(1) + ' ' + sx + ',' + sy + 'Z';
  }
  mk('path', g, { d: df, fill: '#aeb2c2', opacity: .35 });
  mk('path', g, { d: dk, fill: 'none', stroke: '#70758a', 'stroke-width': 2, opacity: .55 });
  mk('path', g, { d: dw, fill: 'none', stroke: '#eef0f4', 'stroke-width': 2, opacity: .7 });
  for (let i = 0; i < P.blobs; i++) {
    mk('circle', g, { cx: P.x + R() * P.w, cy: P.y + R() * P.h, r: 3 + R() * 5, fill: '#f2f3f5', stroke: '#6d7280', 'stroke-width': 1 });
  }
});

/* ---------- fluorescence images ---------- */
function zx(v) { return 1200 + v / 1.12; }
function zy(v) { return 1150 + v / 1.161; }
function zpoly(list) { return list.map(function (p) { return zx(p[0]) + ',' + zy(p[1]); }).join(' '); }
function ellipsePath(cx, cy, rx, ry, deg) {
  const t = deg * Math.PI / 180, dx = rx * Math.cos(t), dy = rx * Math.sin(t);
  return 'M' + (cx - dx).toFixed(1) + ',' + (cy - dy).toFixed(1) +
    'a' + rx + ',' + ry + ' ' + deg + ' 1 0 ' + (2 * dx).toFixed(1) + ',' + (2 * dy).toFixed(1) +
    'a' + rx + ',' + ry + ' ' + deg + ' 1 0 ' + (-2 * dx).toFixed(1) + ',' + (-2 * dy).toFixed(1) + 'Z';
}
function inPoly(x, y, poly) {
  let c = false;
  for (let i = 0, j = poly.length - 1; i < poly.length; j = i++) {
    const xi = zx(poly[i][0]), yi = zy(poly[i][1]), xj = zx(poly[j][0]), yj = zy(poly[j][1]);
    if ((yi > y) !== (yj > y) && x < (xj - xi) * (y - yi) / (yj - yi) + xi) c = !c;
  }
  return c;
}
const fluorRows = [[1174, 320.5], [1501, 322], [1830, 319], [2158, 321]];
const fluorCols = [[1273, 427], [1707, 426], [2141, 427]];
const fluorRoot = document.getElementById('fluor');
const colonyR1 = [[770,30],[810,70],[880,100],[915,170],[950,235],[985,260],[1000,330],[1020,400],[640,400],[660,280],[645,180],[620,150],[690,80]];
const colonyR2a = [[568,530],[620,510],[680,490],[695,540],[740,535],[830,545],[865,580],[860,680],[870,725],[800,730],[730,710],[700,660],[650,650],[610,680],[568,640]];
const colonyR2b = [[905,408],[1005,408],[990,460],[960,498],[920,470]];
const colonyR2c = [[975,781],[1045,760],[1045,781]];
const colonyR3 = [[568,789],[775,789],[870,860],[960,855],[1030,960],[1025,1030],[960,1110],[850,1140],[760,1160],[568,1160]];
const colonyR4 = [[775,1170],[1045,1170],[1045,1543],[568,1543],[570,1470],[650,1400],[720,1340],[750,1270]];
const fluorDefs = [
  { r: 0, c: 0, n: 'tra-hf-1', bg: '#000', nuclei: 72, nc: '#0a80ff', seed: 21 },
  { r: 0, c: 1, n: 'tra-ipsc-1', bg: '#000', colonies: [colonyR1], fill: '#c80c58', nc: '#e04ac4', cr: 5, seed: 22 },
  { r: 0, c: 2, n: 'tra-ihf-1', bg: '#000', nuclei: 60, nc: '#0a80ff', seed: 23 },
  { r: 1, c: 0, n: 'tra-hf-2', bg: '#120003', nuclei: 36, nc: '#0848c8', seed: 24, small: 1 },
  { r: 1, c: 1, n: 'tra-ipsc-2', bg: '#2c0004', colonies: [colonyR2a, colonyR2b, colonyR2c], fill: '#c81440', nc: '#4a88e4', cr: 5, seed: 25 },
  { r: 1, c: 2, n: 'tra-ihf-2', bg: '#000208', nuclei: 72, nc: '#0a70ff', seed: 26, small: 1 },
  { r: 2, c: 0, n: 'vimentin-hf', bg: '#30000a', fibres: 230, fw: 14, fc: '#dc0a28', fl: 62, nuclei: 58, nc: '#9a80e4', seed: 27, ang: 75 },
  { r: 2, c: 1, n: 'vimentin-ipsc', bg: '#2c0006', colonies: [colonyR3], fill: '#0a4cc0', nc: '#1a74ec', cr: 5.4, seed: 28 },
  { r: 2, c: 2, n: 'vimentin-ihf', bg: '#060000', fibres: 150, fw: 15, fc: '#e00f28', fl: 48, nuclei: 34, nc: '#58a4ff', seed: 29, clusters: 1 },
  { r: 3, c: 0, n: 'fsp-hf', bg: '#160003', fibres: 130, fw: 10, fc: '#b00a20', fl: 32, nuclei: 36, nc: '#3a5ad8', seed: 30, clusters: 1 },
  { r: 3, c: 1, n: 'fsp-ipsc', bg: '#2c0006', colonies: [colonyR4], fill: '#0a44b0', nc: '#1a6ee0', cr: 5, seed: 31 },
  { r: 3, c: 2, n: 'fsp-ihf', bg: '#420008', fibres: 180, fw: 12, fc: '#c00e28', fl: 28, nuclei: 62, nc: '#1a9cff', seed: 32, clusters: 1 }
];
fluorDefs.forEach(function (F) {
  const x = fluorCols[F.c][0], w = fluorCols[F.c][1], y = fluorRows[F.r][0], h = fluorRows[F.r][1];
  const R = prng(F.seed);
  const g = mk('g', fluorRoot, { 'clip-path': clipRect(x, y, w, h) });
  
  
  mk('rect', g, { x: x, y: y, width: w, height: h, fill: F.bg });
  const centers = [];
  if (F.nuclei) for (let i = 0; i < F.nuclei; i++) centers.push([x + R() * w, y + R() * h]);
  if (F.fibres) {
    let d1 = '', d2 = '';
    for (let i = 0; i < F.fibres; i++) {
      let cx, cy, a;
      if (F.clusters) {
        const ce = centers[i % centers.length];
        cx = ce[0] + (R() - .5) * 30; cy = ce[1] + (R() - .5) * 30; a = R() * Math.PI;
      } else {
        cx = x + R() * w; cy = y + R() * h;
        a = (F.ang + (R() - .5) * 50) * Math.PI / 180;
      }
      const l = F.fl * (.5 + R());
      const seg = 'M' + (cx - Math.cos(a) * l).toFixed(1) + ',' + (cy - Math.sin(a) * l).toFixed(1) + 'L' + (cx + Math.cos(a) * l).toFixed(1) + ',' + (cy + Math.sin(a) * l).toFixed(1);
      if (i % 3) d1 += seg; else d2 += seg;
    }
    mk('path', g, { d: d1, stroke: F.fc, 'stroke-width': F.fw, 'stroke-linecap': 'round', opacity: .8, fill: 'none', filter: 'url(#blur6)' });
    mk('path', g, { d: d2, stroke: F.fc, 'stroke-width': F.fw * .4, 'stroke-linecap': 'round', opacity: .75, fill: 'none', filter: 'url(#blur2)' });
  }
  if (F.colonies) {
    let d = '';
    const cr = F.cr;
    F.colonies.forEach(function (poly) {
      mk('polygon', g, { points: zpoly(poly), fill: F.fill, filter: 'url(#blur2)' });
      let row = 0;
      for (let yy = y; yy < y + h; yy += 11) {
        row++;
        for (let xx = x + (row % 2) * 6; xx < x + w; xx += 12.5) {
          const px = xx + (R() - .5) * 9, py = yy + (R() - .5) * 9;
          if (inPoly(px, py, poly)) d += ellipsePath(px, py, cr, cr - .4, 0);
        }
      }
    });
    mk('path', g, { d: d, fill: F.nc, filter: 'url(#blur1)' });
  }
  if (F.nuclei) {
    let d = '';
    centers.forEach(function (c) {
      const rx = (F.small ? 5.5 : 7) + R() * 2, ry = (F.small ? 3.5 : 4.5) + R() * 1.5;
      d += ellipsePath(c[0], c[1], rx, ry, Math.round(R() * 180));
    });
    mk('path', g, { d: d, fill: F.nc, filter: 'url(#blur1)' });
  }
});

/* ---------- western blots: box [x0,x1,y0,y1], background, bands [l,r,cy,thickness,colour] ---------- */
const blotTiles = [
  [224,563,4146,4243,'#e6e6e6',[[.08,.49,.59,16,'#404040'],[.62,.95,.62,18,'#151515']]],
  [582,925,4145,4243,'#e2e2e2',[[.07,.42,.52,16,'#202020'],[.57,.93,.6,18,'#151515']]],
  [944,1286,4146,4243,'#e6e6e6',[[.05,.42,.52,22,'#202020'],[.57,.92,.58,24,'#606060']]],
  [1371,1720,4148,4231,'#e6e6e6',[[.09,.43,.6,14,'#303030'],[.57,.95,.58,14,'#1a1a1a']]],
  [1736,2080,4148,4231,'#e2e2e2',[[.04,.44,.56,16,'#111'],[.58,.92,.56,16,'#111']]],
  [2097,2441,4148,4231,'#dedede',[[.06,.44,.56,26,'#505050'],[.58,.93,.55,16,'#202020']]],
  [2525,2875,4148,4233,'#e6e6e6',[[.09,.44,.63,14,'#111'],[.6,.94,.57,16,'#111']]],
  [2893,3236,4146,4232,'#e2e2e2',[[.04,.42,.45,16,'#151515'],[.58,.95,.47,16,'#151515']]],
  [3253,3595,4145,4230,'#e6e6e6',[[.06,.44,.5,16,'#151515'],[.58,.92,.5,16,'#151515']]],

  [224,563,4260,4328,'#e8e8e8',[[.05,.45,.3,12,'#c8c8c8'],[.62,.93,.52,18,'#5a5a5a']]],
  [582,925,4259,4328,'#e8e8e8',[[.03,.4,.4,30,'#555'],[.5,.95,.45,34,'#555']]],
  [944,1286,4259,4328,'#f8f8f8',[[.6,.94,.5,9,'#333']]],
  [1369,1718,4250,4324,'#eeeeee',[[.03,.4,.3,8,'#c0c0c0'],[.55,.8,.3,8,'#dadada']]],
  [1734,2077,4253,4326,'#eeeeee',[[.72,.85,.25,14,'#b0b0b0'],[.5,.6,.8,10,'#bbb']]],
  [2094,2439,4250,4327,'#f6f6f6',[[.6,.95,.45,8,'#d8d8d8']]],
  [2525,2875,4249,4326,'#eeeeee',[[.6,.9,.32,12,'#d4d4d4']]],
  [2893,3236,4248,4325,'#f0f0f0',[]],
  [3253,3596,4245,4322,'#f2f2f2',[[.6,.92,.35,22,'#707070'],[.65,.8,.75,14,'#999']]],

  [223,564,4422,4534,'#f0f0f0',[[.09,.44,.48,18,'#404040'],[.6,.93,.52,16,'#2a2a2a']]],
  [582,923,4422,4534,'#f0f0f0',[[.06,.46,.53,14,'#303030'],[.6,.92,.52,12,'#707070']]],
  [940,1280,4423,4535,'#f0f0f0',[[.08,.46,.53,18,'#606060'],[.61,.93,.55,16,'#6a6a6a']]],
  [1374,1713,4425,4527,'#f0f0f0',[[.08,.45,.55,14,'#303030'],[.58,.93,.6,14,'#303030']]],
  [1730,2078,4426,4528,'#eeeeee',[[.02,.4,.55,16,'#555'],[.58,.92,.57,14,'#555']]],
  [2094,2435,4425,4527,'#f0f0f0',[[.07,.43,.5,18,'#666'],[.58,.92,.48,12,'#505050']]],
  [2531,2871,4433,4532,'#cccccc',[[.08,.46,.42,26,'#808080'],[.62,.95,.62,20,'#606060']]],
  [2885,3236,4433,4532,'#d4d4d4',[[.06,.44,.5,18,'#606060'],[.6,.96,.48,16,'#404040']]],
  [3253,3595,4433,4532,'#c8c8c8',[[.06,.5,.48,14,'#202020'],[.63,.92,.55,14,'#282828']]],

  [220,561,4553,4642,'#f2f2f2',[[.08,.46,.42,8,'#c0c0c0'],[.63,.93,.52,12,'#b0b0b0']]],
  [581,921,4552,4642,'#f0f0f0',[[.08,.42,.5,14,'#909090'],[.57,.88,.48,14,'#a0a0a0']]],
  [938,1279,4553,4642,'#f2f2f2',[[.1,.42,.45,6,'#e0e0e0'],[.65,.92,.58,12,'#aaa']]],
  [1373,1711,4544,4643,'#f0f0f0',[[.07,.42,.55,10,'#c4c4c4'],[.57,.95,.47,24,'#707070']]],
  [1730,2078,4544,4643,'#f0f0f0',[[.02,.35,.45,16,'#888'],[.58,.88,.52,12,'#aaa']]],
  [2095,2437,4544,4644,'#f2f2f2',[[.05,.45,.45,8,'#d0d0d0'],[.66,.92,.56,14,'#808080']]],
  [2531,2871,4551,4650,'#ececec',[[.06,.47,.49,14,'#353535'],[.62,.95,.55,22,'#000']]],
  [2887,3237,4550,4649,'#eeeeee',[[.05,.45,.46,12,'#a0a0a0'],[.58,.95,.48,12,'#aaa']]],
  [3255,3595,4550,4649,'#eeeeee',[[.08,.5,.5,10,'#c0c0c0'],[.65,.93,.52,14,'#555']]]
];
const blotRows = ['vinculin-top', 'p16', 'vinculin-bottom', 'p21'];
const blotGroups = ['hf1', 'ihf1-cl1', 'ihf1-cl2', 'hf2', 'ihf2-cl1', 'ihf2-cl2', 'hf3', 'ihf3-cl1', 'ihf3-cl2'];
const blotRoot = document.getElementById('blotMarks');
blotTiles.forEach(function (B, i) {
  const w = B[1] - B[0], h = B[3] - B[2];
  const g = mk('g', blotRoot, {});
  
  
  mk('rect', g, { x: B[0], y: B[2], width: w, height: h, fill: B[4] });
  const clip = clipRect(B[0], B[2], w, h);
  const halo = mk('g', g, { 'clip-path': clip });
  const bg = mk('g', g, { 'clip-path': clip });
  B[5].forEach(function (b) {
    const bx = B[0] + b[0] * w, bw = (b[1] - b[0]) * w, by = B[2] + b[2] * h;
    mk('rect', halo, { x: bx, y: by - b[3] * 1.4, width: bw, height: b[3] * 2.8, fill: b[4], opacity: .3, filter: 'url(#blur10)' });
    mk('rect', bg, { x: bx, y: by - b[3] * .6, width: bw, height: b[3] * 1.2, rx: Math.min(8, b[3] / 2), fill: b[4], filter: 'url(#blur4)' });
  });
  mk('rect', g, { x: B[0], y: B[2], width: w, height: h, fill: 'none', stroke: '#000', 'stroke-width': 4 });
});
</script>
</body>
</html>
